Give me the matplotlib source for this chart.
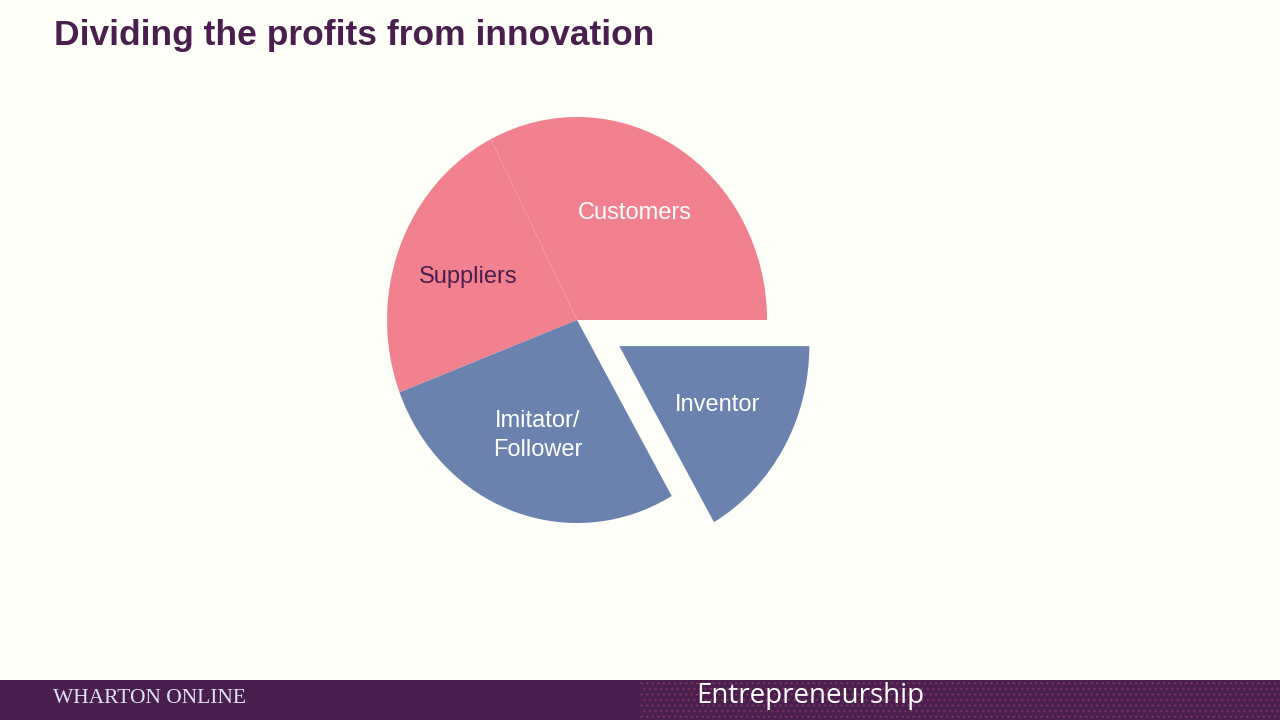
import matplotlib.pyplot as plt
from matplotlib.patches import Rectangle

# slice shares (angles / 360)
groups = ['Customers', 'Suppliers', 'Imitator/\nFollower', 'Inventor']
shares = [32.5, 23.3, 27.5, 16.7]
explode = [0, 0, 0, 0.257]
slice_colors = ['#F28190', '#F28190', '#6A82AD', '#6A82AD']
label_colors = ['white', '#4A1E4E', 'white', 'white']
label_pos = [(0.305, 0.527), (-0.574, 0.212), (-0.205, -0.567), (0.737, -0.419)]

bg = '#FEFEF8'
purple = '#4A1E4E'

fig = plt.figure(figsize=(12.8, 7.2), dpi=100, facecolor=bg)

# pie slightly taller than wide, like the slide
ax = fig.add_axes([0.2727, 0.2172, 0.35625, 0.6767])
ax.set_facecolor(bg)
ax.pie(shares, explode=explode, colors=slice_colors, startangle=0,
       counterclock=True, wedgeprops={'linewidth': 0.4, 'edgecolor': None})
ax.set_aspect('auto')
ax.set_xlim(-1.2, 1.2)
ax.set_ylim(-1.2, 1.2)
ax.set_axis_off()

for name, col, (x, y) in zip(groups, label_colors, label_pos):
    ax.text(x, y, name, color=col, ha='center', va='center', fontsize=17,
            family='Liberation Sans', linespacing=1.4)

fig.text(0.0422, 0.951, 'Dividing the profits from innovation', fontsize=25.5,
         fontweight='bold', color=purple, family='Liberation Sans', va='center')

# footer band
fig.patches.append(Rectangle((0, 0), 1, 40 / 720, transform=fig.transFigure,
                             facecolor=purple, edgecolor='none', zorder=0))
fig.patches.append(Rectangle((0.5, 0), 0.5, 40 / 720, transform=fig.transFigure,
                             facecolor='none', edgecolor='#B8506E', hatch='...',
                             linewidth=0, alpha=0.35, zorder=1))
fig.text(0.0414, 0.0305, 'WHARTON ONLINE', fontsize=15.5, color='#DCE4F2',
         family='Liberation Serif', va='center')
fig.text(0.5437, 0.033, 'Entrepreneurship', fontsize=20, color='white',
         family='Open Sans', va='center')

fig.savefig('out.png', dpi=100, facecolor=bg)
